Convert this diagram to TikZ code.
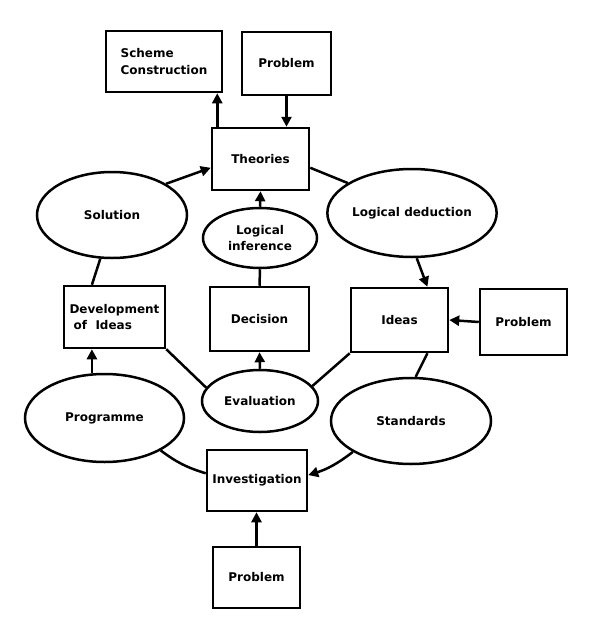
\documentclass[tikz,border=0pt]{standalone}
\usepackage{fontspec}
\usetikzlibrary{shapes.geometric,arrows.meta}
\newfontfamily\lab{DejaVu Sans}
\begin{document}
\begin{tikzpicture}[x=1pt,y=-1pt,
  every node/.style={font=\lab\bfseries\fontsize{12}{16.5}\selectfont, text=black},
  boxn/.style={draw, line width=2.5pt, inner sep=0pt},
  elln/.style={draw, ellipse, line width=2.5pt, inner sep=0pt},
  conn/.style={line width=2.5pt},
  arr/.style={line width=2.5pt, -{Triangle[length=10pt,width=10pt]}}]
\useasboundingbox (0,0) rectangle (592,640);
\fill[white] (0,0) rectangle (592,640);

\node[boxn, minimum width=116pt, minimum height=61pt, align=left] (scheme) at (164,61.5) {Scheme\\Construction};
\node[boxn, minimum width=89pt, minimum height=63pt] (probT) at (286.5,63.5) {Problem};
\node[boxn, minimum width=97pt, minimum height=62pt] (th) at (260.5,159) {Theories};
\node[elln, minimum width=150pt, minimum height=86pt] (sol) at (112,215) {Solution};
\node[elln, minimum width=114pt, minimum height=60pt, align=center] (li) at (260,238) {Logical\\inference};
\node[elln, minimum width=160pt, minimum height=88pt] (ld) at (412,213) {Logical deduction};
\node[boxn, minimum width=101pt, minimum height=62pt, align=left] (dev) at (114.5,317) {Development\\~of~~Ideas};
\node[boxn, minimum width=99pt, minimum height=64pt] (dec) at (259.5,319) {Decision};
\node[boxn, minimum width=97pt, minimum height=64pt] (ideas) at (399.5,320) {Ideas};
\node[boxn, minimum width=87pt, minimum height=66pt] (probR) at (523.5,322) {Problem};
\node[elln, minimum width=116pt, minimum height=62pt] (eval) at (260,401) {Evaluation};
\node[elln, minimum width=159pt, minimum height=88pt] (prog) at (104.5,418) {Programme};
\node[elln, minimum width=160pt, minimum height=86pt] (st) at (411,421) {Standards};
\node[boxn, minimum width=100pt, minimum height=61pt] (inv) at (257,480.5) {Investigation};
\node[boxn, minimum width=87pt, minimum height=61pt] (probB) at (256.5,577.5) {Problem};

\coordinate (schemeIn) at ([xshift=-6pt]scheme.south east);
\draw[arr] (th.north -| schemeIn) -- (schemeIn);
\draw[arr] (probT.south) -- (probT.south |- th.north);
\draw[arr] (sol.30) -- (th.190);
\draw[conn] (th.-10) -- (ld.155);
\draw[arr] (ld.-84) -- (ideas.50);
\draw[arr] (probR.west) -- (ideas.east);
\draw[conn] (ideas.-50) -- (st.84);
\draw[arr] (st.208) to[bend left=10] (inv.6);
\draw[conn] (inv.172) to[bend left=10] (prog.-30);
\draw[arr] (prog.north -| dev.235) -- (dev.235);
\draw[conn] (dev.125) -- (sol.-105);
\draw[conn] (dev.south east) -- (eval.166);
\draw[conn] (ideas.south west) -- (eval.16);
\draw[arr] (eval.north) -- (dec.south);
\draw[conn] (li.south) -- (dec.north);
\draw[arr] (li.north) -- (th.south);
\draw[arr] (probB.north) -- (probB.north |- inv.south);
\end{tikzpicture}
\end{document}
